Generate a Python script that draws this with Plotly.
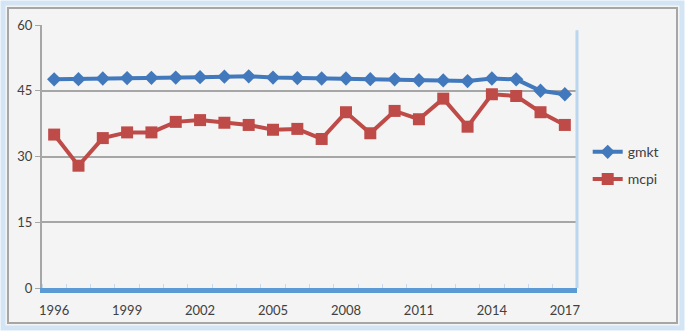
import plotly.graph_objects as go

years = list(range(1996, 2018))
gmkt = [47.6, 47.65, 47.8, 47.9, 47.95, 48.0, 48.1, 48.2, 48.3, 48.0, 47.9,
        47.8, 47.8, 47.65, 47.6, 47.4, 47.35, 47.2, 47.8, 47.6, 45.0, 44.2]
mcpi = [35.0, 27.9, 34.2, 35.5, 35.5, 37.9, 38.3, 37.7, 37.2, 36.1, 36.3,
        34.0, 40.1, 35.3, 40.4, 38.5, 43.2, 36.8, 44.2, 43.8, 40.1, 37.2]
x_ticks = [1996, 1999, 2002, 2005, 2008, 2011, 2014, 2017]
y_ticks = [0, 15, 30, 45, 60]

W, H = 685, 331
L, R, T, B = 42, 108, 25, 43
pw, ph = W - L - R, H - T - B


def px(x):
    return (x - L) / pw


def py(y):
    return (H - B - y) / ph


fig = go.Figure()
fig.add_trace(go.Scatter(x=years, y=gmkt, name="gmkt", mode="lines+markers",
                         legendgroup="g1",
                         line=dict(color="#4279bd", width=4),
                         marker=dict(symbol="diamond", size=11, color="#4279bd")))
fig.add_trace(go.Scatter(x=years, y=mcpi, name="mcpi", mode="lines+markers",
                         legendgroup="g2",
                         line=dict(color="#be4b48", width=4),
                         marker=dict(symbol="square", size=12, color="#be4b48")))

shapes = [
    # outer glow
    dict(type="rect", xref="paper", yref="paper", layer="below",
         x0=px(3), x1=px(682), y0=py(328), y1=py(3),
         line=dict(color="#d3e5f5", width=5), fillcolor="#f4f4f4"),
    # outer border
    dict(type="rect", xref="paper", yref="paper", layer="below",
         x0=px(8), x1=px(677), y0=py(323), y1=py(8),
         line=dict(color="#a6a6a6", width=2), fillcolor="#f4f4f4"),
    # right edge of plot frame
    dict(type="line", xref="paper", yref="paper", layer="above",
         x0=1.0, x1=1.0, y0=0, y1=0.98,
         line=dict(color="#bcd6ee", width=3)),
]

fig.update_layout(
    width=W, height=H,
    margin=dict(l=L, r=R, t=T, b=B),
    paper_bgcolor="white",
    plot_bgcolor="#f8f8f8",
    font=dict(family="Lato, Liberation Sans, sans-serif", size=13, color="#404040"),
    shapes=shapes,
    showlegend=True,
    legend=dict(x=1.02, y=0.465, xanchor="left", yanchor="middle",
                bgcolor="rgba(0,0,0,0)", font=dict(size=14, color="#404040"),
                itemwidth=30, tracegroupgap=6),
    xaxis=dict(range=[1995.5, 2017.5], tickvals=x_ticks, showgrid=False,
               zeroline=False, showline=True, linecolor="#5b9bd5", linewidth=5,
               ticks="", ticklabelstandoff=6,
               minor=dict(tick0=1995.5, dtick=1, ticks="inside", ticklen=4,
                          tickcolor="#c9d9ea", tickwidth=1, showgrid=False)),
    yaxis=dict(range=[0, 60], tickvals=y_ticks, showgrid=True,
               gridcolor="#a6a6a6", gridwidth=2, zeroline=False,
               showline=True, linecolor="#a6a6a6", linewidth=2,
               ticks="outside", ticklen=5, tickcolor="#a6a6a6"),
)

fig.write_html("out.html", config={"displayModeBar": False},
               post_script="document.body.style.margin='0';document.body.style.padding='0';")
